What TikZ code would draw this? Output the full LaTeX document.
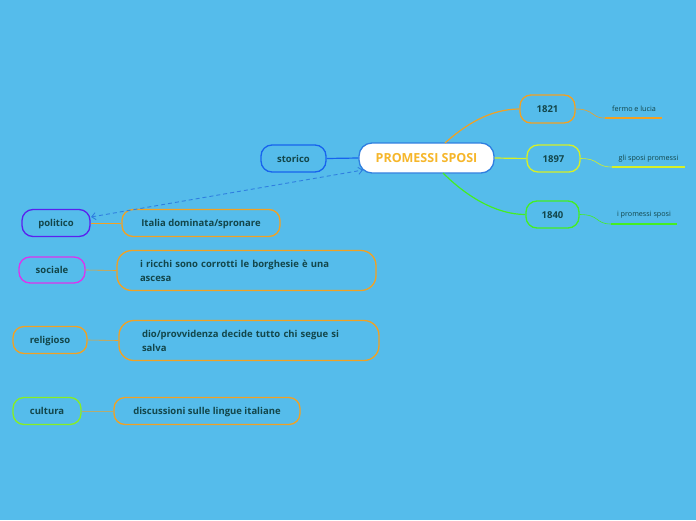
\documentclass[tikz,border=0pt]{standalone}
\usepackage{fontspec}
\setmainfont{Open Sans}
\usetikzlibrary{arrows.meta}
\definecolor{bg}{HTML}{55BCEB}
\definecolor{txt}{HTML}{13464A}
\definecolor{cor}{HTML}{F2A122}
\definecolor{cyel}{HTML}{D6F026}
\definecolor{cgrn}{HTML}{44EE22}
\definecolor{cblu}{HTML}{1763EE}
\definecolor{cpur}{HTML}{5A22EE}
\definecolor{cmag}{HTML}{DD33EE}
\definecolor{clime}{HTML}{88EE22}
\definecolor{ctitle}{HTML}{F6B62A}
\definecolor{cdash}{HTML}{2F7FE0}
\begin{document}
\begin{tikzpicture}[x=1pt,y=-1pt,
  box/.style={draw, line width=1.3pt, rounded corners=11pt, text=txt, font=\fontsize{9.5}{14}\selectfont\bfseries, inner sep=0pt, align=center},
  one/.style={box, text height=7.5pt, text depth=0.5pt},
  wide/.style={box, align=left, text width=#1},
  small/.style={text=txt, font=\fontsize{7.2}{8}\selectfont, inner sep=0pt},
  conn/.style={line width=1.2pt},
  thin/.style={line width=0.6pt}]
\fill[bg] (0,0) rectangle (696,520);
\useasboundingbox (0,0) rectangle (696,520);

% central
\node[one, fill=white, draw=cdash, minimum width=135pt, minimum height=30pt, rounded corners=13pt, text=ctitle, font=\fontsize{12.5}{14}\selectfont\bfseries, text height=9pt, text depth=0pt] (ps) at (426.5,158) {PROMESSI SPOSI};
\node[one, draw=cblu, minimum width=65pt, minimum height=27pt] (st) at (293.5,158.5) {storico};
\node[one, draw=cor, minimum width=55pt, minimum height=28pt, text height=7.5pt, text depth=0pt] (a) at (547.5,109) {1821};
\node[one, draw=cyel, minimum width=53pt, minimum height=27pt, text height=7.5pt, text depth=0pt] (b) at (553.5,158.5) {1897};
\node[one, draw=cgrn, minimum width=53pt, minimum height=27pt, text height=7.5pt, text depth=0pt] (c) at (552.5,214.5) {1840};

\node[small] (ta) at (634,109) {fermo e lucia};
\node[small] (tb) at (648.5,158.5) {gli sposi promessi};
\node[small] (tc) at (644,214.5) {i promessi sposi};
\coordinate (ua1) at (605,118); \coordinate (ua2) at (662,118);
\coordinate (ub1) at (612,167); \coordinate (ub2) at (685,167);
\coordinate (uc1) at (611,224); \coordinate (uc2) at (677,224);
\draw[cor, line width=1.3pt] (ua1) -- (ua2);
\draw[cyel, line width=1.3pt] (ub1) -- (ub2);
\draw[cgrn, line width=1.3pt] (uc1) -- (uc2);
\draw[cor, thin] (a.east) .. controls (595,109) and (590,118) .. (ua1);
\draw[cyel, thin] (b.east) .. controls (600,158.5) and (595,167) .. (ub1);
\draw[cgrn, thin] (c.east) .. controls (600,214.5) and (595,224) .. (uc1);

\draw[cblu, conn] (st.east) -- (ps.west);
\draw[cor, conn] (445,143) .. controls (465,125) and (490,109) .. (a.west);
\draw[cyel, conn] (ps.east) -- (b.west);
\draw[cgrn, conn] (443,173) .. controls (465,195) and (495,214.5) .. (c.west);

% left column
\node[one, draw=cpur, minimum width=68pt, minimum height=27pt] (pol) at (56,223) {politico};
\node[one, draw=cor, minimum width=158pt, minimum height=27pt] (polt) at (201,223) {Italia dominata/spronare};
\node[one, draw=cmag, minimum width=66pt, minimum height=26pt] (soc) at (52,270) {sociale};
\node[wide=213pt, draw=cor, minimum width=259pt, minimum height=40pt, rounded corners=15pt] (soct) at (246.5,270.5) {i ricchi sono corrotti le borghesie è una\\ascesa};
\node[one, draw=cor, minimum width=74pt, minimum height=27pt] (rel) at (50,340) {religioso};
\node[wide=214pt, draw=cor, minimum width=260pt, minimum height=40pt, rounded corners=15pt] (relt) at (249,340.5) {dio/provvidenza decide tutto chi segue si\\salva};
\node[one, draw=clime, minimum width=68pt, minimum height=27pt] (cul) at (47,411) {cultura};
\node[one, draw=cor, minimum width=186pt, minimum height=27pt] (cult) at (207,411) {discussioni sulle lingue italiane};

\draw[cor, thin] (pol.east) -- (polt.west);
\draw[cor, thin] (soc.east) -- (soct.west);
\draw[cor, thin] (rel.east) -- (relt.west);
\draw[cor!60!bg, thin] (cul.east) -- (cult.west);

\coordinate (dl) at (91,217);
\coordinate (dr) at (363,170);
\draw[cdash, line width=0.9pt, dash pattern=on 4pt off 3pt, {Straight Barb[length=4pt,width=7pt]}-{Straight Barb[length=4pt,width=7pt]}] (dl) -- (dr);
\end{tikzpicture}
\end{document}
